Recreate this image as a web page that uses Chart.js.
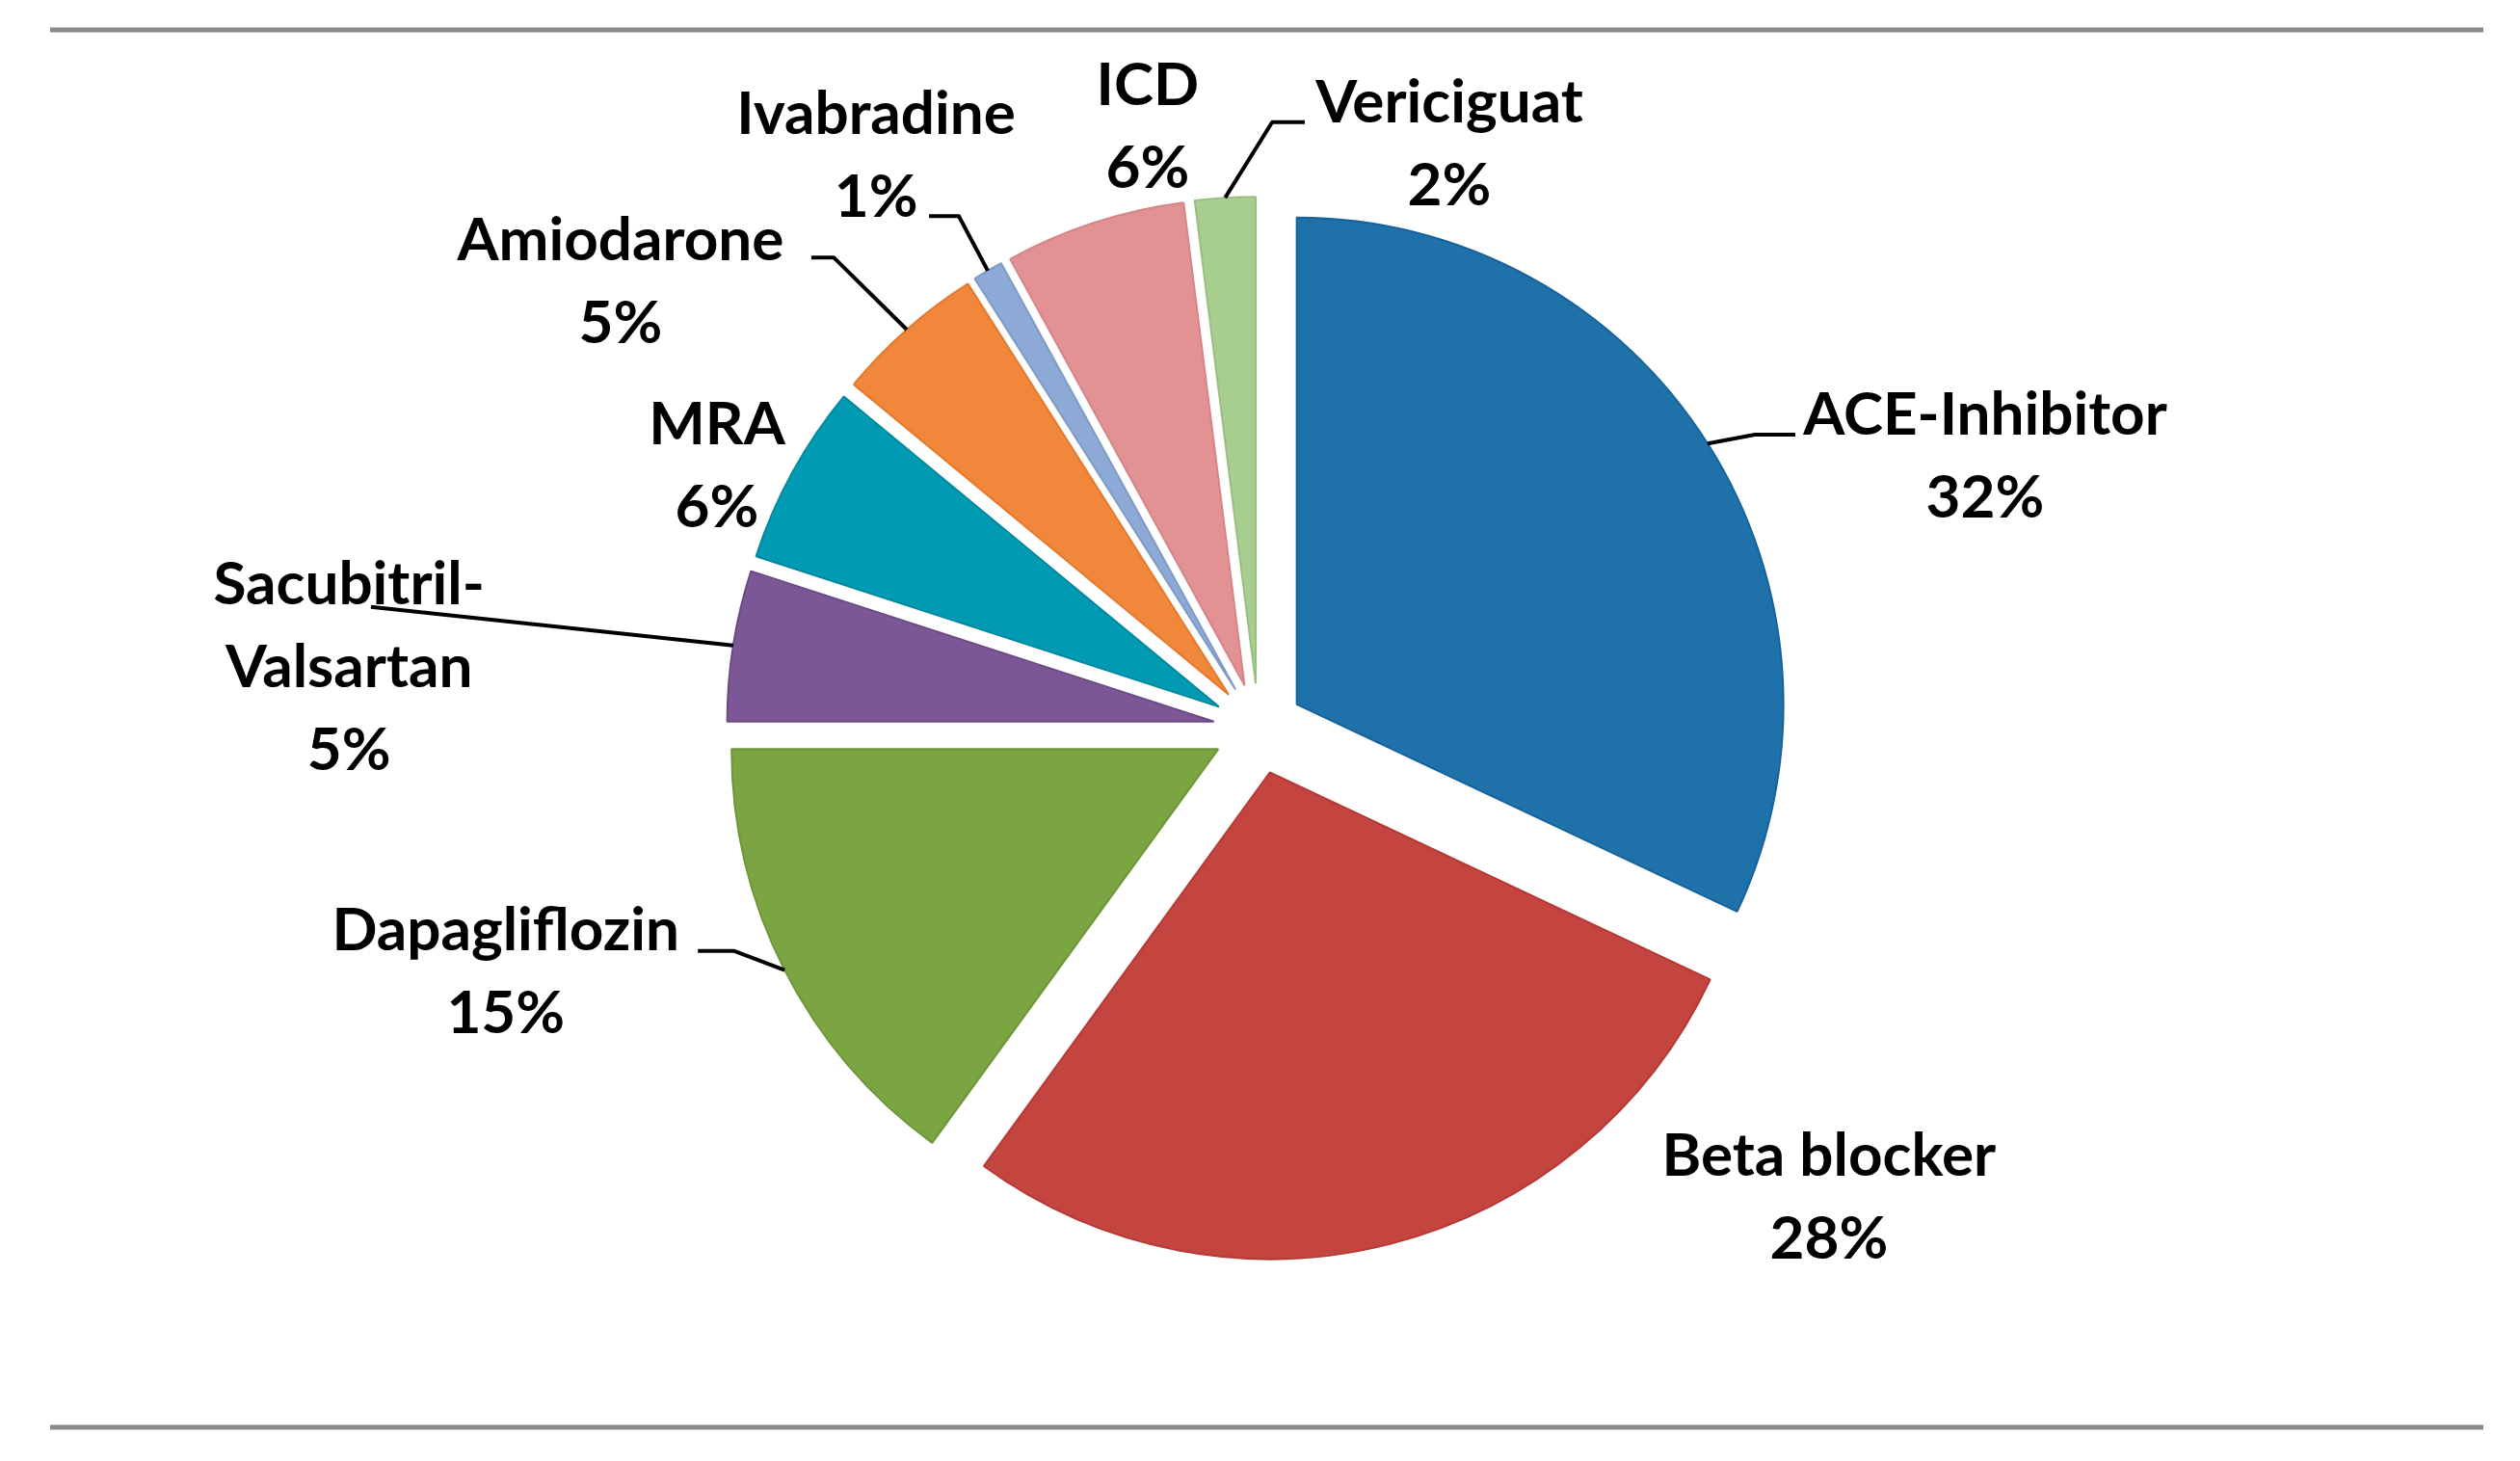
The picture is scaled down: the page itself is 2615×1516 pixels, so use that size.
<!DOCTYPE html>
<html>
<head>
<meta charset="utf-8">
<script src="https://cdn.jsdelivr.net/npm/chart.js@4"></script>
<style>
  html, body { margin: 0; padding: 0; background: #fff; }
  #wrap { width: 2615px; height: 1516px; }
</style>
</head>
<body>
<div id="wrap"><canvas id="therapyPie"></canvas></div>
<script>
// Therapy share (percent of patients)
const categories = ['ACE-Inhibitor', 'Beta blocker', 'Dapagliflozin', ['Sacubitril-', 'Valsartan'], 'MRA', 'Amiodarone', 'Ivabradine', 'ICD', 'Vericiguat'];
const shares = [32, 28, 15, 5, 6, 5, 1, 6, 2];

const sliceColors = ['#1f71aa', '#c4453f', '#7ba543', '#7b5895', '#009ab2', '#f1873a', '#8da9d5', '#e39294', '#a8ce8f'];
const sliceEdges = ['#17629a', '#b53a35', '#6e9638', '#6c4a86', '#0089a0', '#e27a2f', '#7e9ac6', '#d48587', '#98bf80'];

// where each label sits, in pie radii from the centre; leader = elbow + end
const labelSpots = [
  { x: 1.493, y: -0.558, leader: [[1.020, -0.604], [1.103, -0.604]] },
  { x: 1.172, y: 0.964, leader: null },
  { x: -1.547, y: 0.501, leader: [[-1.077, 0.457], [-1.152, 0.457]] },
  { x: -1.869, y: -0.125, leader: [[-1.824, -0.250], [-1.824, -0.250]] },
  { x: -1.113, y: -0.539, leader: null },
  { x: -1.311, y: -0.917, leader: [[-0.873, -0.968], [-0.919, -0.968]] },
  { x: -0.786, y: -1.176, leader: [[-0.616, -1.053], [-0.677, -1.053]] },
  { x: -0.228, y: -1.236, leader: null },
  { x: 0.392, y: -1.200, leader: [[0.028, -1.246], [0.095, -1.246]] }
];

const EXPLODE = 0.093;   // slice pull-out, fraction of radius
const LABEL_FONT = 'bold 62px Lato';
const LINE_H = 86;

// gray rules above and below the chart
const frameLines = {
  id: 'frameLines',
  beforeDraw(chart) {
    const ctx = chart.ctx;
    ctx.save();
    ctx.strokeStyle = '#8a8a8a';
    ctx.lineWidth = 5;
    [31, 1481].forEach(y => {
      ctx.beginPath();
      ctx.moveTo(52, y);
      ctx.lineTo(2577, y);
      ctx.stroke();
    });
    ctx.restore();
  }
};

// every slice pulled out along its middle angle
const explodedSlices = {
  id: 'explodedSlices',
  beforeDatasetDraw(chart, args) {
    const ctx = chart.ctx;
    args.meta.data.forEach(arc => {
      const mid = (arc.startAngle + arc.endAngle) / 2;
      const d = arc.outerRadius * EXPLODE;
      ctx.save();
      ctx.translate(Math.cos(mid) * d, Math.sin(mid) * d);
      arc.draw(ctx);
      ctx.restore();
    });
    return false;
  }
};

// category + percent labels with leader lines
const sliceLabels = {
  id: 'sliceLabels',
  afterDatasetsDraw(chart) {
    const ctx = chart.ctx;
    const arcs = chart.getDatasetMeta(0).data;
    const cx = arcs[0].x;
    const cy = arcs[0].y;
    const R = arcs[0].outerRadius;
    ctx.save();
    arcs.forEach((arc, i) => {
      const spot = labelSpots[i];
      if (spot.leader) {
        const mid = (arc.startAngle + arc.endAngle) / 2;
        const r = R * (1 + EXPLODE);
        ctx.beginPath();
        ctx.strokeStyle = '#000';
        ctx.lineWidth = 4;
        ctx.lineJoin = 'round';
        ctx.moveTo(cx + Math.cos(mid) * r, cy + Math.sin(mid) * r);
        spot.leader.forEach(p => ctx.lineTo(cx + p[0] * R, cy + p[1] * R));
        ctx.stroke();
      }
      const name = chart.data.labels[i];
      const lines = (Array.isArray(name) ? name : [name]).concat(shares[i] + '%');
      const x = cx + spot.x * R;
      const y0 = cy + spot.y * R - (lines.length - 1) * LINE_H / 2;
      ctx.font = LABEL_FONT;
      ctx.fillStyle = '#000';
      ctx.textAlign = 'center';
      ctx.textBaseline = 'middle';
      lines.forEach((t, k) => ctx.fillText(t, x, y0 + k * LINE_H));
    });
    ctx.restore();
  }
};

const ctx = document.getElementById('therapyPie').getContext('2d');
new Chart(ctx, {
  type: 'pie',
  data: {
    labels: categories,
    datasets: [{
      data: shares,
      backgroundColor: sliceColors,
      borderColor: sliceEdges,
      borderWidth: 2
    }]
  },
  options: {
    responsive: true,
    maintainAspectRatio: false,
    animation: false,
    radius: 505,
    layout: {
      padding: { left: 706, right: 709, top: 156, bottom: 160 }
    },
    plugins: {
      legend: { display: false },
      tooltip: { enabled: false }
    }
  },
  plugins: [frameLines, explodedSlices, sliceLabels]
});
</script>
</body>
</html>
